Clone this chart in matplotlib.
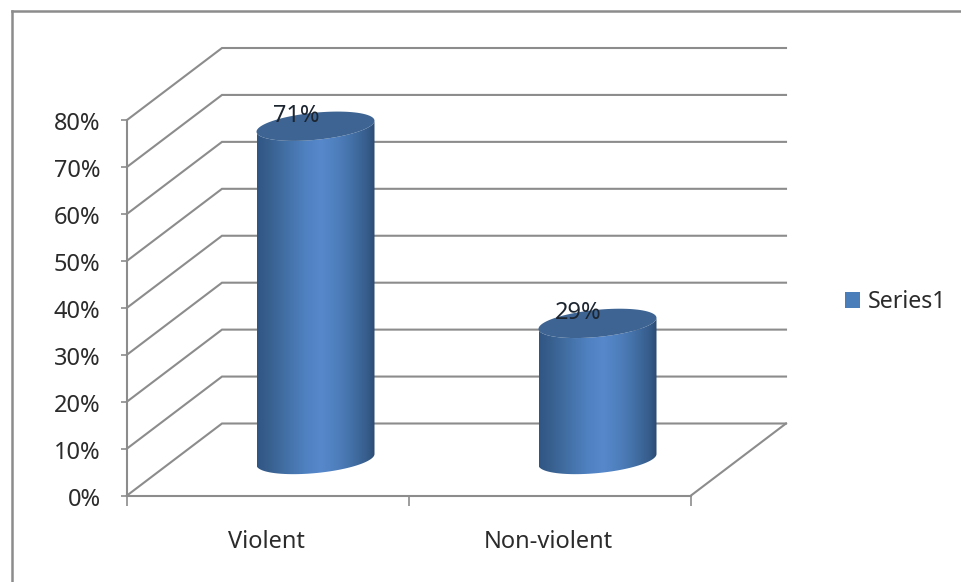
import numpy as np
import matplotlib
matplotlib.use('Agg')
import matplotlib.pyplot as plt
from matplotlib.colors import LinearSegmentedColormap
from matplotlib.lines import Line2D
from matplotlib.patches import Patch, Polygon
from matplotlib.transforms import ScaledTranslation

categories = ['Violent', 'Non-violent']
values = [71, 29]
y_ticks = [0, 10, 20, 30, 40, 50, 60, 70, 80]
series_name = 'Series1'

W, H = 961, 582
GREY = '#8c8c8c'
TEXT = '#2b2b2b'

plt.rcParams['font.family'] = ['Noto Sans', 'DejaVu Sans']

fig = plt.figure(figsize=(W / 100, H / 100), dpi=100, facecolor='white')

# outer chart frame, only top and left show in the picture
fig.add_artist(Line2D([12 / W, 12 / W], [0, 1 - 11 / H], color=GREY, lw=1.8))
fig.add_artist(Line2D([12 / W, 1], [1 - 11 / H, 1 - 11 / H], color=GREY, lw=1.8))

# front plane of the 3d box
left, right, top, bottom = 127, 691, 120, 495.5
ax = fig.add_axes([left / W, 1 - bottom / H, (right - left) / W, (bottom - top) / H])
ax.set_xlim(0, 2)
ax.set_ylim(0, 80)
ax.patch.set_visible(False)
ax.spines['top'].set_visible(False)
ax.spines['right'].set_visible(False)
ax.spines['left'].set_color(GREY)
ax.spines['bottom'].set_color(GREY)
ax.spines['left'].set_linewidth(1.5)
ax.spines['bottom'].set_linewidth(1.5)

px_x = 2 / (right - left)
px_y = 80 / (bottom - top)
depth_x = 95 * px_x
depth_y = 72 * px_y

ax.set_yticks(y_ticks)
ax.set_yticklabels(['%d%%' % v for v in y_ticks])
ax.set_xticks([0, 1, 2])
ax.set_xticklabels([])
ax.set_xticks([0.5, 1.5], categories, minor=True)
ax.tick_params(axis='y', length=4.5, width=1.2, color=GREY, labelcolor=TEXT,
               labelsize=17, pad=14.5)
ax.tick_params(axis='x', which='major', length=7, width=1.2, color=GREY)
ax.tick_params(axis='x', which='minor', length=0, labelcolor=TEXT,
               labelsize=17, pad=24.5)

# labels sit a little off their ticks in the reference
y_nudge = ScaledTranslation(0, -1 / 72, fig.dpi_scale_trans)
for lab in ax.get_yticklabels():
    lab.set_transform(lab.get_transform() + y_nudge)
x_nudge = ScaledTranslation(-1.44 / 72, 0, fig.dpi_scale_trans)
for lab in ax.get_xticklabels(minor=True):
    lab.set_transform(lab.get_transform() + x_nudge)

# gridlines going back along the side wall then across the back wall
for v in y_ticks:
    ax.plot([0, depth_x, 2 + depth_x], [v, v + depth_y, v + depth_y],
            color=GREY, lw=1.5, clip_on=False, zorder=1, solid_joinstyle='miter')
ax.plot([2, 2 + depth_x], [0, depth_y], color=GREY, lw=1.5, clip_on=False, zorder=1)

# cylinders
side_cmap = LinearSegmentedColormap.from_list(
    'side', [(0, '#2f5583'), (0.1, '#38608f'), (0.25, '#4370a6'), (0.42, '#5082c2'),
             (0.55, '#5688cb'), (0.7, '#4d7dba'), (0.85, '#3f6a9e'), (0.95, '#345a88'),
             (1, '#2c4a70')])
half_w = 59 * px_x
skew = 5.5 * px_y
half_h = 13.6 * px_y
t = np.linspace(0, np.pi, 60)


def ring(cx, cy, angles):
    return (cx + half_w * np.cos(angles),
            cy + skew * np.cos(angles) + half_h * np.sin(angles))


for i, val in enumerate(values):
    cx = i + 0.5 + depth_x / 2
    base = depth_y / 2
    top_y = base + val
    # body outline: front half of the top edge, front half of the bottom edge
    xt, yt = ring(cx, top_y, -t)
    xb, yb = ring(cx, base, -t[::-1])
    body = np.column_stack([np.r_[xt, xb], np.r_[yt, yb]])
    clip = Polygon(body, closed=True, transform=ax.transData, fc='none', ec='none')
    ax.add_patch(clip)
    grad = np.linspace(0, 1, 256).reshape(1, -1)
    im = ax.imshow(grad, cmap=side_cmap, aspect='auto', zorder=3,
                   extent=[cx - half_w, cx + half_w, base - half_h - skew, top_y + half_h],
                   interpolation='bilinear')
    im.set_clip_path(clip)
    ax.set_xlim(0, 2)
    ax.set_ylim(0, 80)
    # top cap
    xc, yc = ring(cx, top_y, np.linspace(0, 2 * np.pi, 90))
    ax.fill(xc, yc, color='#3d6492', zorder=4, clip_on=False, lw=0)
    ax.annotate('%d%%' % val, (cx, top_y), xytext=(-19 * 0.72, 10 * 0.72),
                textcoords='offset points', ha='center', va='center',
                fontsize=17, color='#1c2530', zorder=5, annotation_clip=False)

handle = Patch(facecolor='#4a7ebb', edgecolor='none', label=series_name)
fig.legend(handles=[handle], loc='center left', bbox_to_anchor=(826 / W, 1 - 302 / H),
           frameon=False, fontsize=16.7, handlelength=0.65, handleheight=0.65,
           handletextpad=0.35, labelcolor=TEXT, borderpad=0.3)

fig.savefig('out.png', dpi=100)
